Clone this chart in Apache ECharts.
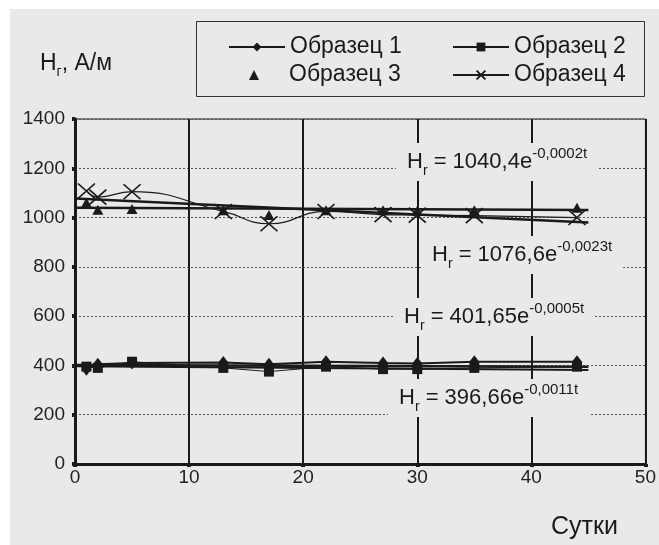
<!DOCTYPE html>
<html>
<head>
<meta charset="utf-8">
<script src="https://cdn.jsdelivr.net/npm/echarts@6/dist/echarts.min.js"></script>
<style>html,body{margin:0;padding:0;background:#fff}#c{width:659px;height:545px}</style>
</head>
<body>
<div id="c"></div>
<script>
// ---- data ----
const days = [1, 2, 5, 13, 17, 22, 27, 30, 35, 44];
const sample1 = [385, 405, 410, 412, 405, 415, 410, 408, 415, 415];
const sample2 = [395, 390, 415, 390, 375, 395, 385, 385, 390, 395];
const sample3 = [1060, 1032, 1035, 1030, 1010, 1030, 1030, 1028, 1030, 1040];
const sample4 = [1108, 1083, 1105, 1025, 975, 1025, 1012, 1010, 1008, 1000];
const trendDays = [0, 45];
const trend1 = [402, 395];
const trend2 = [397, 381];
const trend3 = [1040, 1031];
const trend4 = [1077, 980];
const names = ['Образец 1', 'Образец 2', 'Образец 3', 'Образец 4'];
const equations = [
  ['1040,4e', '-0,0002t'],
  ['1076,6e', '-0,0023t'],
  ['401,65e', '-0,0005t'],
  ['396,66e', '-0,0011t']
];
const xTicks = { min: 0, max: 50, interval: 10 };
const yTicks = { min: 0, max: 1400, interval: 200 };

const FONT = '"Liberation Sans Narrow", "Arial Narrow", "Liberation Sans", Arial, sans-serif';
const BG = '#e9e9e9';
const INK = '#1a1a1a';
const CROSS = 'path://M0,0L10,10M10,0L0,10';

const pairs = (xs, ys) => xs.map((x, i) => [x, ys[i]]);

function eqText(i) {
  return '{m|H}{s|r}{m| = ' + equations[i][0] + '}{p|' + equations[i][1] + '}';
}
const eqRich = {
  m: { fontSize: 22, lineHeight: 32, verticalAlign: 'middle', fontFamily: FONT, fill: INK },
  s: { fontSize: 14, lineHeight: 14, verticalAlign: 'bottom', fontFamily: FONT, fill: INK },
  p: { fontSize: 15, lineHeight: 20, verticalAlign: 'top', fontFamily: FONT, fill: INK }
};
const eqPos = [[396, 143], [421, 236], [393, 298], [388, 379]];

function legendAt(name, left, top, extra) {
  return Object.assign({
    data: [name], left: left, top: top, padding: 0,
    itemWidth: 56, itemHeight: 11, selectedMode: false,
    textStyle: { fontFamily: FONT, fontSize: 23, color: INK, lineHeight: 24 }
  }, extra || {});
}

const chart = echarts.init(document.getElementById('c'), null, { renderer: 'canvas' });
chart.setOption({
  animation: false,
  backgroundColor: BG,
  grid: { left: 75, right: 11, top: 119, bottom: 81, show: true, backgroundColor: BG, borderColor: INK, borderWidth: 1 },
  legend: [
    legendAt(names[0], 228, 35),
    legendAt(names[1], 452, 35),
    legendAt(names[2], 249, 63, {
      itemWidth: 10, itemHeight: 10,
      itemStyle: { opacity: 1, color: INK },
      textStyle: { fontFamily: FONT, fontSize: 23, color: INK, lineHeight: 24, padding: [0, 0, 0, 25] }
    }),
    legendAt(names[3], 452, 63)
  ],
  xAxis: {
    type: 'value', min: xTicks.min, max: xTicks.max, interval: xTicks.interval,
    axisLine: { show: true, onZero: false, lineStyle: { color: INK, width: 3 } },
    axisTick: { show: true, length: 3, lineStyle: { color: INK, width: 4 } },
    axisLabel: { color: '#222', fontFamily: FONT, fontSize: 19, margin: 4, formatter: v => String(v) },
    splitLine: { show: true, lineStyle: { color: INK, width: 2, type: 'solid' } }
  },
  yAxis: {
    type: 'value', min: yTicks.min, max: yTicks.max, interval: yTicks.interval,
    axisLine: { show: true, lineStyle: { color: INK, width: 3 } },
    axisTick: { show: true, length: 3, lineStyle: { color: INK, width: 4 } },
    axisLabel: { color: '#222', fontFamily: FONT, fontSize: 19, margin: 10, formatter: v => String(v) },
    splitLine: { show: true, lineStyle: { color: '#555', width: 1, type: [2, 2] } }
  },
  graphic: [
    { type: 'rect', left: 0, top: 0, z: 100, shape: { width: 659, height: 9 }, style: { fill: '#fff' } },
    { type: 'rect', left: 0, top: 0, z: 100, shape: { width: 10, height: 545 }, style: { fill: '#fff' } },
    { type: 'rect', left: 194, top: 19, z: 5, shape: { width: 448, height: 75 }, style: { fill: 'none', stroke: '#333', lineWidth: 1 } },
    { type: 'text', left: 40, top: 52, z: 10, style: {
        text: '{m|H}{s|г}{m|, А/м}',
        rich: {
          m: { fontSize: 23, lineHeight: 32, verticalAlign: 'middle', fontFamily: FONT, fill: INK },
          s: { fontSize: 14, lineHeight: 14, verticalAlign: 'bottom', fontFamily: FONT, fill: INK }
        } } },
    { type: 'text', left: 551, top: 515, z: 10, style: { text: 'Сутки', fontSize: 25, fontFamily: FONT, fill: INK } }
  ].concat(eqPos.map((p, i) => ({
    type: 'text', left: p[0], top: p[1], z: 10,
    style: { text: eqText(i), rich: eqRich, backgroundColor: BG, padding: [3, 11] }
  }))),
  series: [
    { name: 'trend3', type: 'line', data: pairs(trendDays, trend3), symbol: 'none', lineStyle: { color: INK, width: 2.5 }, z: 2, silent: true },
    { name: 'trend4', type: 'line', data: pairs(trendDays, trend4), symbol: 'none', lineStyle: { color: INK, width: 2.5 }, z: 2, silent: true },
    { name: 'trend1', type: 'line', data: pairs(trendDays, trend1), symbol: 'none', lineStyle: { color: INK, width: 2.5 }, z: 2, silent: true },
    { name: 'trend2', type: 'line', data: pairs(trendDays, trend2), symbol: 'none', lineStyle: { color: INK, width: 2 }, z: 2, silent: true },
    { name: names[0], type: 'line', data: pairs(days, sample1), symbol: 'diamond', symbolSize: [10, 13],
      lineStyle: { color: INK, width: 2 }, itemStyle: { color: INK }, z: 3 },
    { name: names[1], type: 'line', data: pairs(days, sample2), symbol: 'rect', symbolSize: 10,
      lineStyle: { color: INK, width: 1 }, itemStyle: { color: INK }, z: 3 },
    { name: names[2], type: 'scatter', data: pairs(days, sample3), symbol: 'triangle', symbolSize: [11, 10],
      itemStyle: { color: INK, opacity: 1 }, z: 4 },
    { name: names[3], type: 'line', data: pairs(days, sample4), smooth: 0.5, symbol: CROSS, symbolSize: [17, 15],
      lineStyle: { color: INK, width: 1.2 }, itemStyle: { color: 'none', borderColor: INK, borderWidth: 1.6 }, z: 4 }
  ]
});
</script>
</body>
</html>
